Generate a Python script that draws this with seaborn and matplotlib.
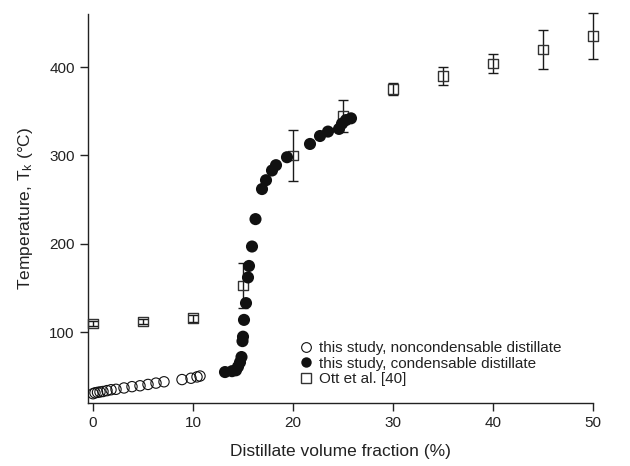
import matplotlib
matplotlib.use("Agg")
import matplotlib.pyplot as plt
from matplotlib.lines import Line2D
import numpy as np
import pandas as pd
import seaborn as sns

# Noncondensable distillate (this study)
nc_frac = [0.0, 0.2, 0.45, 0.7, 1.0, 1.4, 1.8, 2.3, 3.1, 3.9, 4.7, 5.5, 6.3, 7.1, 8.9, 9.8, 10.4, 10.7]
nc_temp = [30.5, 31.5, 32.0, 32.5, 33.0, 34.0, 35.0, 35.5, 37.0, 38.5, 39.5, 41.0, 42.5, 44.0, 46.5, 48.0, 49.5, 50.5]

# Condensable distillate (this study)
c_frac = [13.2, 13.9, 14.3, 14.5, 14.7, 14.85, 14.95, 15.0, 15.1, 15.3, 15.5, 15.6, 15.9, 16.25,
          16.9, 17.3, 17.9, 18.3, 19.4, 21.7, 22.7, 23.5, 24.6, 24.9, 25.3, 25.8]
c_temp = [55, 56, 57, 61, 66, 72, 90, 95, 114, 133, 162, 175, 197, 228,
          262, 272, 283, 289, 298, 313, 322, 327, 330, 336, 340, 342]

# Ott et al. [40] with asymmetric uncertainties
ott_frac = [0, 5, 10, 15, 20, 25, 30, 35, 40, 45, 50]
ott_temp = [110, 112, 116, 153, 300, 345, 375, 390, 404, 420, 435]
ott_err_lo = [3, 3, 4, 25, 29, 19, 7, 10, 11, 22, 26]
ott_err_hi = [3, 3, 4, 25, 29, 18, 7, 10, 11, 22, 26]

x_ticks = [0, 10, 20, 30, 40, 50]
y_ticks = [100, 200, 300, 400]

sns.set_theme(style="ticks")
plt.rcParams["font.family"] = ["Liberation Sans", "DejaVu Sans"]
plt.rcParams["mathtext.fontset"] = "custom"
plt.rcParams["mathtext.rm"] = "Liberation Sans"
plt.rcParams["mathtext.it"] = "Liberation Sans:italic"

text_c = "#222222"

fig = plt.figure(figsize=(6.3, 4.66), dpi=100)
ax = fig.add_axes([88 / 630, 1 - 403 / 466, (593 - 88) / 630, (403 - 14) / 466])

nc = pd.DataFrame({"frac": nc_frac, "temp": nc_temp})
cd = pd.DataFrame({"frac": c_frac, "temp": c_temp})
ott = pd.DataFrame({"frac": ott_frac, "temp": ott_temp})

ax.errorbar(ott["frac"], ott["temp"], yerr=[ott_err_lo, ott_err_hi], fmt="none",
            ecolor="#1a1a1a", elinewidth=1.0, capsize=3.6, capthick=1.0,
            zorder=2, clip_on=False)
sns.scatterplot(data=ott, x="frac", y="temp", marker="s", s=46, facecolor="none",
                edgecolor="#333333", linewidth=1.0, zorder=3, ax=ax, clip_on=False)
sns.scatterplot(data=nc, x="frac", y="temp", marker="o", s=55, facecolor="none",
                edgecolor="#111111", linewidth=0.8, zorder=4, ax=ax)
sns.scatterplot(data=cd, x="frac", y="temp", marker="o", s=76, color="#111111",
                edgecolor="none", linewidth=0, zorder=5, ax=ax)

ax.set_xlim(-0.5, 50)
ax.set_ylim(20, 460)
ax.set_xticks(x_ticks)
ax.set_yticks(y_ticks)
ax.tick_params(direction="out", length=6, width=1.0, colors="#222222",
               labelsize=11, labelcolor=text_c)
for side in ("left", "bottom"):
    ax.spines[side].set_color("#222222")
    ax.spines[side].set_linewidth(1.0)
sns.despine(ax=ax)

ax.set_xlabel("Distillate volume fraction (%)", fontsize=12.5, color=text_c, labelpad=10)
ax.set_ylabel("Temperature, T$_\\mathregular{k}$ (°C)", fontsize=12.5, color=text_c, labelpad=10)

handles = [
    Line2D([], [], ls="none", marker="o", ms=7, mfc="none", mec="#111111", mew=0.8),
    Line2D([], [], ls="none", marker="o", ms=7.5, mfc="#111111", mec="#111111", mew=0),
    Line2D([], [], ls="none", marker="s", ms=6.5, mfc="none", mec="#333333", mew=1.0),
]
labels = ["this study, noncondensable distillate",
          "this study, condensable distillate",
          "Ott et al. [40]"]
fig.legend(handles, labels, loc="upper left", bbox_to_anchor=(298 / 630, 1 - 341 / 466),
           frameon=False, fontsize=11, handlelength=1.0, handletextpad=0.4,
           labelspacing=0.1, borderpad=0, borderaxespad=0, labelcolor=text_c)

fig.savefig("out.png", dpi=100)
